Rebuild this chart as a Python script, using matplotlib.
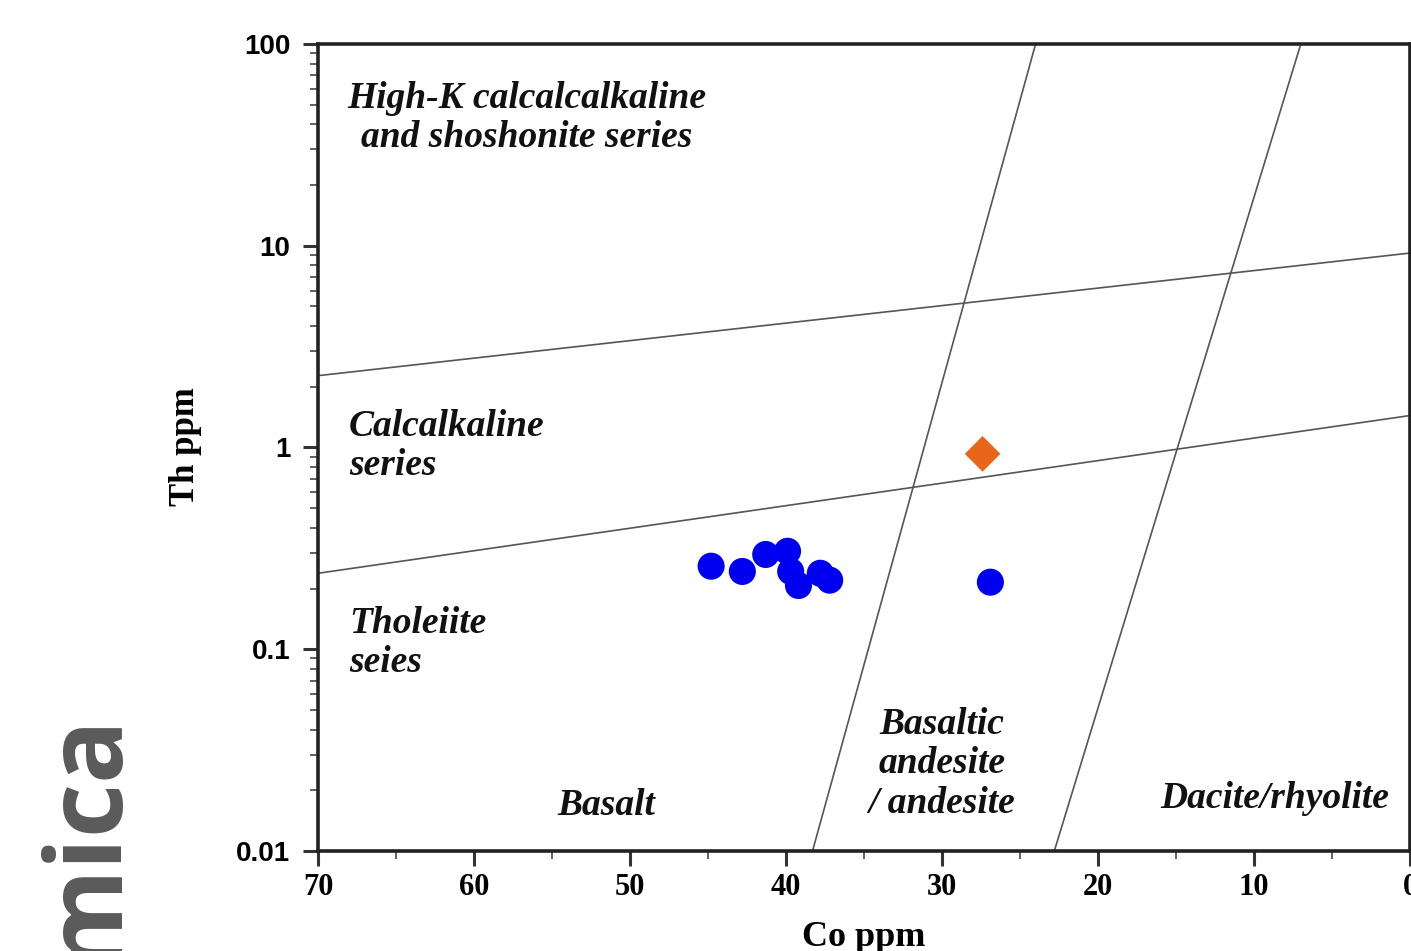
import numpy as np
import matplotlib.pyplot as plt
from matplotlib.ticker import MultipleLocator, LogLocator, NullFormatter, FixedLocator

# sample data (Co ppm, Th ppm)
basalt_co = [44.8, 42.8, 41.3, 39.9, 39.7, 39.2, 37.8, 37.2, 26.9]
basalt_th = [0.258, 0.243, 0.295, 0.306, 0.243, 0.207, 0.238, 0.220, 0.215]
other_co = [27.4]
other_th = [0.93]

# field boundaries: (Co, Th) at both ends
boundary_series_upper = [(70, 2.27), (0, 9.2)]
boundary_series_lower = [(70, 0.238), (0, 1.44)]
boundary_rock_1 = [(38.3, 0.01), (24.0, 100)]
boundary_rock_2 = [(22.8, 0.01), (7.0, 100)]

x_ticks = [70, 60, 50, 40, 30, 20, 10, 0]
y_ticks = [0.01, 0.1, 1, 10, 100]
y_tick_labels = ["0.01", "0.1", "1", "10", "100"]

W, H = 1411, 951
fig = plt.figure(figsize=(W / 100, H / 100), dpi=100)
ax = fig.add_axes([318 / W, 1 - 851 / H, (1410 - 318) / W, (851 - 44) / H])

ax.set_yscale("log")
ax.set_xlim(70, 0)
ax.set_ylim(0.01, 100)

for seg in (boundary_series_upper, boundary_series_lower, boundary_rock_1, boundary_rock_2):
    xs = [p[0] for p in seg]
    ys = [p[1] for p in seg]
    ax.plot(xs, ys, color="#555555", lw=1.2, zorder=2)

ax.scatter(basalt_co, basalt_th, s=380, color="#0000f0", edgecolors="none", zorder=4)
ax.scatter(other_co, other_th, s=330, marker="D", color="#e8651a", edgecolors="none", zorder=4)

serif_bi = dict(family="Liberation Serif", weight="bold", style="italic", fontsize=27, color="#111111")
ax.text(56.6, 43, "High-K calcalcalkaline\nand shoshonite series", ha="center", va="center",
        linespacing=1.15, **serif_bi)
ax.text(68.0, 1.02, "Calcalkaline\nseries", ha="left", va="center", linespacing=1.15, **serif_bi)
ax.text(68.0, 0.107, "Tholeiite\nseies", ha="left", va="center", linespacing=1.15, **serif_bi)
ax.text(51.5, 0.0169, "Basalt", ha="center", va="center", **serif_bi)
ax.text(30.0, 0.027, "Basaltic\nandesite\n/ andesite", ha="center", va="center", linespacing=1.15, **serif_bi)
ax.text(8.7, 0.0183, "Dacite/rhyolite", ha="center", va="center", **serif_bi)

ax.xaxis.set_major_locator(FixedLocator(x_ticks))
ax.xaxis.set_minor_locator(MultipleLocator(5))
ax.yaxis.set_major_locator(FixedLocator(y_ticks))
ax.yaxis.set_minor_locator(LogLocator(base=10, subs=np.arange(2, 10), numticks=20))
ax.yaxis.set_minor_formatter(NullFormatter())
ax.set_yticklabels(y_tick_labels, family="Liberation Sans", weight="bold", fontsize=20)
ax.set_xticklabels([str(t) for t in x_ticks], family="Liberation Serif", weight="bold", fontsize=22)

ax.tick_params(which="major", direction="out", length=11, width=2.2, color="#333333", pad=5)
ax.tick_params(axis="y", which="major", pad=9)
ax.tick_params(which="minor", direction="out", length=6, width=1.2, color="#444444")
for sp in ax.spines.values():
    sp.set_linewidth(2.6)
    sp.set_color("#222222")

fig.text(864 / W, 1 - 937 / H, "Co ppm", ha="center", va="center",
         family="Liberation Serif", weight="bold", fontsize=26)
fig.text(185 / W, 1 - 447 / H, "Th ppm", ha="center", va="center", rotation=90,
         family="Liberation Serif", weight="bold", fontsize=25)

# cut-off journal name down the left margin
fig.text(115 / W, 1 - 710 / H, "mica", rotation=90, rotation_mode="anchor", ha="right", va="baseline",
         family="Open Sans", weight="bold", fontsize=76, color="#5a5a5a")

fig.savefig("out.png", dpi=100)
